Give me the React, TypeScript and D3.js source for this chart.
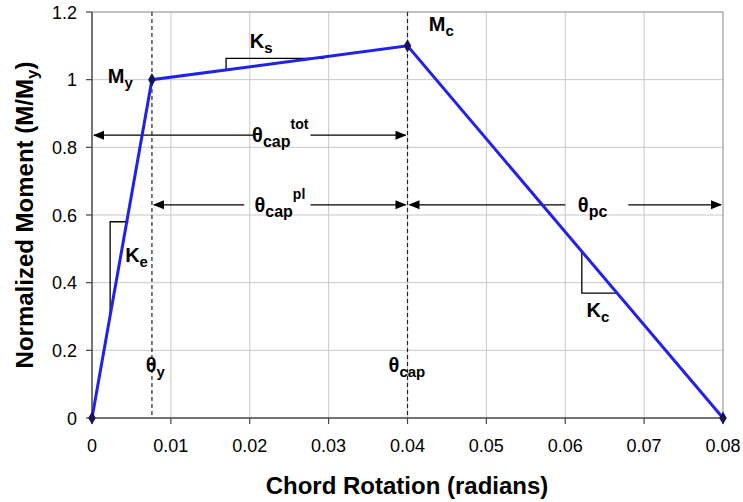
import React from "react";
import * as d3 from "d3";

const pointX = [0, 0.0076, 0.04, 0.08];
const pointY = [0, 1.0, 1.1, 0];
const xTicks = [0, 0.01, 0.02, 0.03, 0.04, 0.05, 0.06, 0.07, 0.08];
const yTicks = [0, 0.2, 0.4, 0.6, 0.8, 1, 1.2];

const W = 743, H = 502;
const M = { left: 92, right: 20, top: 12, bottom: 84 };
const FONT = "'Liberation Sans', Arial, sans-serif";

export default function App() {
  const x = d3.scaleLinear().domain([0, 0.08]).range([M.left, W - M.right]);
  const y = d3.scaleLinear().domain([0, 1.2]).range([H - M.bottom, M.top]);
  const pts = pointX.map((v, i) => [v, pointY[i]] as [number, number]);
  const line = d3.line<[number, number]>().x(d => x(d[0])).y(d => y(d[1]));
  const x0 = x(0), x1 = x(0.08), y0 = y(0), y1 = y(1.2);
  const thY = x(0.0076), thC = x(0.04);
  const diamond = d3.symbol().type(d3.symbolDiamond).size(50)()!;

  const arrowY1 = y(0.836), arrowY2 = y(0.63);
  const head = (xx: number, yy: number, dir: number) =>
    `M${xx},${yy} L${xx - dir * 11},${yy - 4.5} L${xx - dir * 11},${yy + 4.5} Z`;

  const bold = { fontFamily: FONT, fontWeight: 700, fill: "#000" } as const;

  const hArrow = (xa: number, xb: number, yy: number, gapA: number, gapB: number) => (
    <g>
      <line x1={xa + 2} x2={gapA} y1={yy} y2={yy} stroke="#000" strokeWidth={1.3} />
      <line x1={gapB} x2={xb - 2} y1={yy} y2={yy} stroke="#000" strokeWidth={1.3} />
      <path d={head(xa + 1, yy, -1)} fill="#000" />
      <path d={head(xb - 1, yy, 1)} fill="#000" />
    </g>
  );

  return (
    <svg width={W} height={H} style={{ position: "absolute", left: 0, top: 0, background: "#fff" }}>
      <rect x={0} y={0} width={W} height={H} fill="#fff" />
      {/* grid */}
      {xTicks.slice(1).map(t => (
        <line key={"gx" + t} x1={x(t)} x2={x(t)} y1={y1} y2={y0} stroke="#c8c8c8" strokeWidth={1} />
      ))}
      {yTicks.slice(1).map(t => (
        <line key={"gy" + t} x1={x0} x2={x1} y1={y(t)} y2={y(t)} stroke="#c8c8c8" strokeWidth={1} />
      ))}
      <line x1={x0} x2={x1} y1={y1} y2={y1} stroke="#a0a0a0" strokeWidth={1} />
      <line x1={x1} x2={x1} y1={y1} y2={y0} stroke="#a0a0a0" strokeWidth={1} />
      {/* axes */}
      <line x1={x0} x2={x0} y1={y1} y2={y0} stroke="#444" strokeWidth={1.5} />
      <line x1={x0} x2={x1} y1={y0} y2={y0} stroke="#444" strokeWidth={1.5} />
      {yTicks.map(t => (
        <g key={"yt" + t}>
          <line x1={x0 - 6} x2={x0} y1={y(t)} y2={y(t)} stroke="#444" strokeWidth={1.2} />
          <text x={x0 - 15} y={y(t) + 6.5} textAnchor="end" fontSize={18} fontFamily={FONT} fill="#000">
            {String(t)}
          </text>
        </g>
      ))}
      {xTicks.map(t => (
        <g key={"xt" + t}>
          <line x1={x(t)} x2={x(t)} y1={y0} y2={y0 + 6} stroke="#444" strokeWidth={1.2} />
          <text x={x(t)} y={y0 + 34} textAnchor="middle" fontSize={18} fontFamily={FONT} fill="#000">
            {String(t)}
          </text>
        </g>
      ))}
      {/* dashed lines */}
      <line x1={thY} x2={thY} y1={y1} y2={y0} stroke="#222" strokeWidth={1.2} strokeDasharray="4,3" />
      <line x1={thC} x2={thC} y1={y1} y2={y0} stroke="#222" strokeWidth={1.2} strokeDasharray="4,3" />
      {/* arrows */}
      {hArrow(x0, thC, arrowY1, x(0.0205), x(0.0277))}
      {hArrow(thY, thC, arrowY2, x(0.0193), x(0.0277))}
      {hArrow(thC, x1, arrowY2, x(0.0600), x(0.0680))}
      <text x={x(0.0203)} y={arrowY1 + 7} {...bold} fontSize={20}>
        θ<tspan fontSize={16} dy={5}>cap</tspan><tspan fontSize={14} dy={-18}>tot</tspan>
      </text>
      <text x={x(0.0206)} y={arrowY2 + 7} {...bold} fontSize={20}>
        θ<tspan fontSize={16} dy={5}>cap</tspan><tspan fontSize={14} dy={-18}>pl</tspan>
      </text>
      <text x={x(0.0616)} y={arrowY2 + 7} {...bold} fontSize={20}>
        θ<tspan fontSize={16} dy={5}>pc</tspan>
      </text>
      {/* slope triangles */}
      <path d={`M${x(0.0046)},${y(0.58)} H${x(0.0023)} V${y(0.29)}`} fill="none" stroke="#000" strokeWidth={1.3} />
      <text x={x(0.0042)} y={y(0.46)} {...bold} fontSize={20}>
        K<tspan fontSize={15} dy={5}>e</tspan>
      </text>
      <path d={`M${x(0.017)},${y(1.03)} V${y(1.063)} H${x(0.0294)}`} fill="none" stroke="#000" strokeWidth={1.3} />
      <text x={x(0.0200)} y={y(1.093)} {...bold} fontSize={20}>
        K<tspan fontSize={15} dy={5}>s</tspan>
      </text>
      <path d={`M${x(0.0621)},${y(0.49)} V${y(0.369)} H${x(0.0667)}`} fill="none" stroke="#000" strokeWidth={1.3} />
      <text x={x(0.0627)} y={y(0.3)} {...bold} fontSize={20}>
        K<tspan fontSize={15} dy={5}>c</tspan>
      </text>
      {/* point labels */}
      <text x={x(0.0020)} y={y(0.99)} {...bold} fontSize={20}>
        M<tspan fontSize={15} dy={5}>y</tspan>
      </text>
      <text x={x(0.0427)} y={y(1.145)} {...bold} fontSize={20}>
        M<tspan fontSize={15} dy={5}>c</tspan>
      </text>
      <text x={x(0.0068)} y={y(0.135)} {...bold} fontSize={20}>
        θ<tspan fontSize={15} dy={5}>y</tspan>
      </text>
      <text x={x(0.0376)} y={y(0.135)} {...bold} fontSize={20}>
        θ<tspan fontSize={15} dy={5}>cap</tspan>
      </text>
      {/* curve */}
      <path d={line(pts)!} fill="none" stroke="#2121ee" strokeWidth={3} />
      {pts.map((p, i) => (
        <path key={"m" + i} d={diamond} transform={`translate(${x(p[0])},${y(p[1])})`} fill="#14145a" />
      ))}
      {/* titles */}
      <text x={407} y={494} textAnchor="middle" {...bold} fontSize={24}>
        Chord Rotation (radians)
      </text>
      <text transform={`translate(33,${(y0 + y1) / 2}) rotate(-90)`} textAnchor="middle" {...bold} fontSize={24}>
        Normalized Moment (M/M<tspan fontSize={17} dy={5}>y</tspan><tspan dy={-5}>)</tspan>
      </text>
    </svg>
  );
}
